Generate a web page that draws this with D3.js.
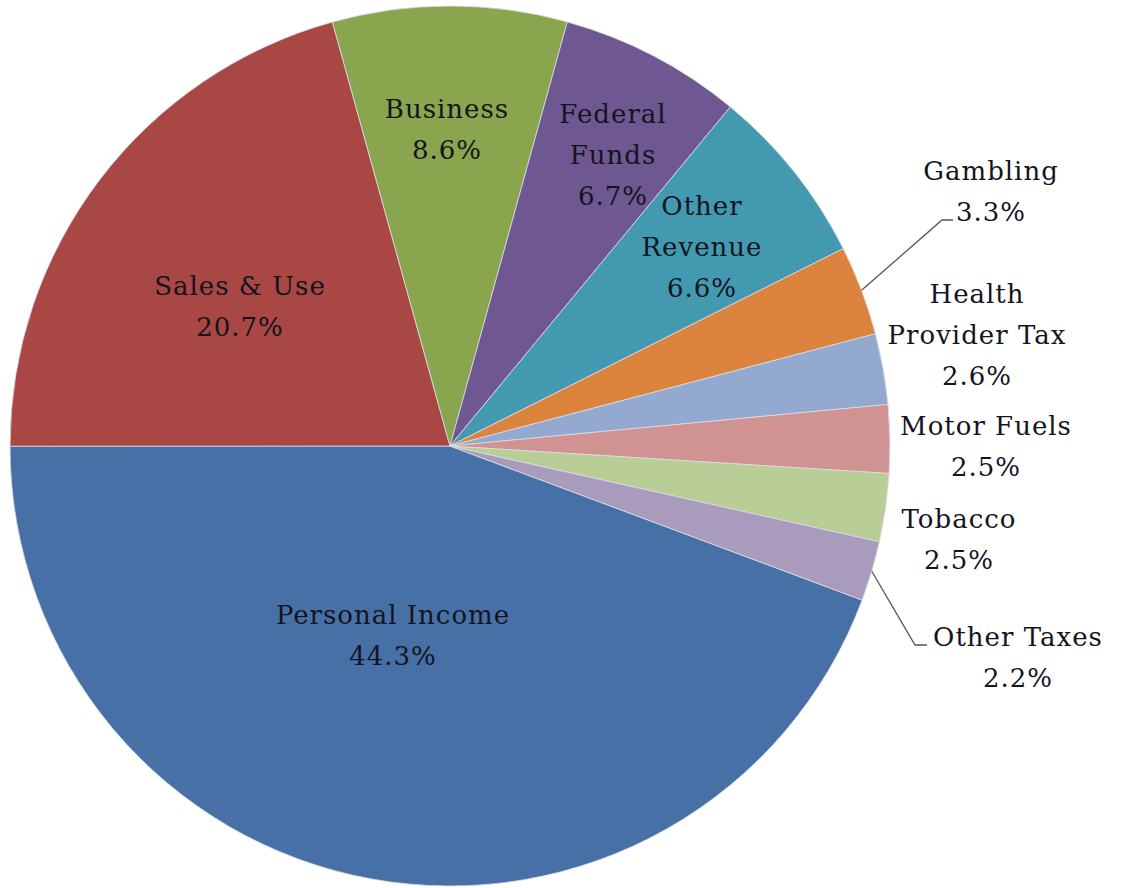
<!DOCTYPE html>
<html>
<head>
<meta charset="utf-8">
<script src="https://cdn.jsdelivr.net/npm/d3@7"></script>
<style>
  body { margin: 0; background: #fff; }
  svg text { font-family: "Palatino Linotype", "Book Antiqua", Palatino, "DejaVu Serif", serif; fill: #14141e; }
</style>
</head>
<body>
<div id="result"></div>
<script>
(function(){
  'use strict';

  // data, clockwise from the first slice
  var categories = ["Personal Income", "Sales & Use", "Business", "Federal Funds", "Other Revenue",
                    "Gambling", "Health Provider Tax", "Motor Fuels", "Tobacco", "Other Taxes"];
  var shares     = [44.3, 20.7, 8.6, 6.7, 6.6, 3.3, 2.6, 2.5, 2.5, 2.2];
  var labelLines = [["Personal Income"], ["Sales & Use"], ["Business"], ["Federal", "Funds"], ["Other", "Revenue"],
                    ["Gambling"], ["Health", "Provider Tax"], ["Motor Fuels"], ["Tobacco"], ["Other Taxes"]];
  var colors     = ["#4770a6", "#a84744", "#89a54e", "#6f5792", "#4299b0",
                    "#dc843e", "#93a9d0", "#d19392", "#b9cd96", "#a99bbd"];

  var option = {
    width: 1121, height: 888,
    cx: 450, cy: 446, r: 440,
    startDeg: 110.5,
    fontSize: 26, lineH: 41
  };

  // label block centres (first baseline) and leader elbows
  var labelAt = [[393, 624], [240, 295], [447, 118], [613, 123], [702, 215],
                 [991, 180], [977, 303], [986, 435], [959, 528], [1018, 646]];
  var leaders = {5: [[942, 220], [953, 220]], 9: [[915, 645], [927, 645]]};

  var svg = d3.select("#result").append("svg")
    .attr("width", option.width)
    .attr("height", option.height);

  var g = svg.append("g")
    .attr("transform", "translate(" + option.cx + "," + option.cy + ")");

  var start = option.startDeg * Math.PI / 180;
  var pie = d3.pie().sort(null).value(function(d){ return d; })
    .startAngle(start).endAngle(start + 2 * Math.PI);
  var arcs = pie(shares);
  var arc = d3.arc().innerRadius(0).outerRadius(option.r);

  g.selectAll("path.slice")
    .data(arcs)
    .enter()
    .append("path")
    .attr("class", "slice")
    .attr("d", arc)
    .attr("fill", function(d, i){ return colors[i]; })
    .attr("stroke", "#dcdce6")
    .attr("stroke-width", 0.8);

  // leader lines for the small slices
  Object.keys(leaders).forEach(function(k){
    var a = arcs[+k];
    var mid = (a.startAngle + a.endAngle) / 2;
    var p0 = [option.cx + option.r * Math.sin(mid), option.cy - option.r * Math.cos(mid)];
    var pts = [p0].concat(leaders[k]);
    svg.append("path")
      .attr("d", d3.line()(pts))
      .attr("fill", "none")
      .attr("stroke", "#555")
      .attr("stroke-width", 1.3);
  });

  var labels = svg.selectAll("text.lbl")
    .data(arcs)
    .enter()
    .append("text")
    .attr("class", "lbl")
    .attr("text-anchor", "middle")
    .attr("font-size", option.fontSize)
    .attr("letter-spacing", 1)
    .attr("x", function(d, i){ return labelAt[i][0]; })
    .attr("y", function(d, i){ return labelAt[i][1]; });

  labels.each(function(d, i){
    var t = d3.select(this);
    var lines = labelLines[i].concat([d3.format(".1f")(shares[i]) + "%"]);
    lines.forEach(function(s, j){
      t.append("tspan")
        .attr("x", labelAt[i][0])
        .attr("dy", j === 0 ? 0 : option.lineH)
        .text(s);
    });
  });

})();
</script>
</body>
</html>
